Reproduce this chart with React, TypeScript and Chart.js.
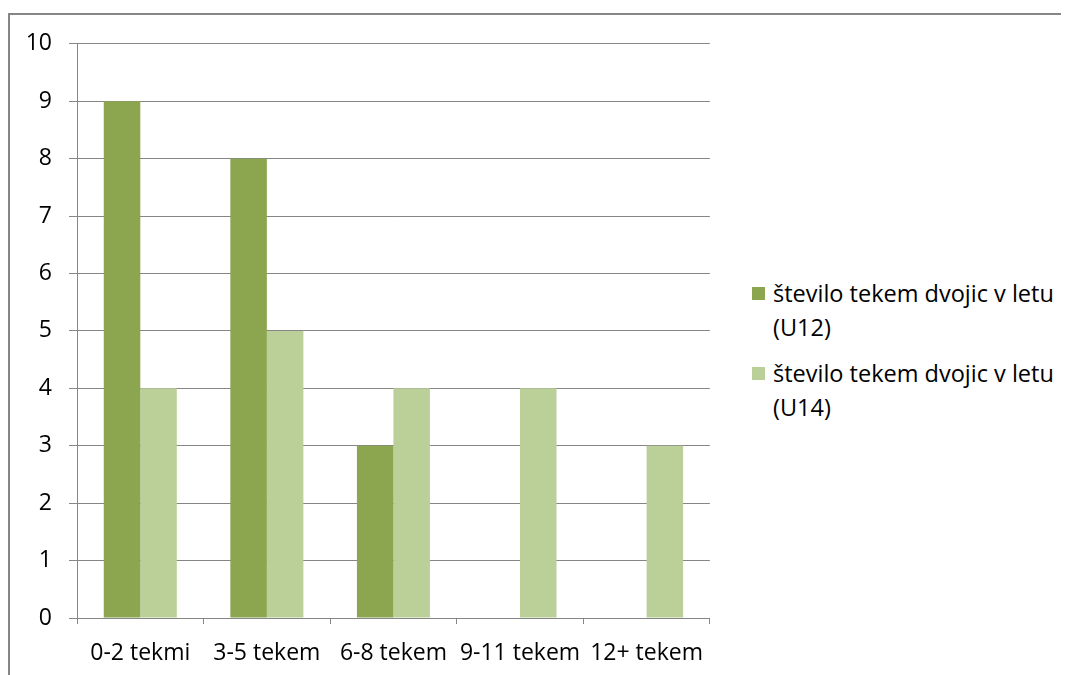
import React, { useEffect, useRef } from "react";
import { Chart, registerables } from "chart.js";

Chart.register(...registerables);

const categories = ["0-2 tekmi", "3-5 tekem", "6-8 tekem", "9-11 tekem", "12+ tekem"];
const seriesNames = ["število tekem dvojic v letu (U12)", "število tekem dvojic v letu (U14)"];
const legendLines = [
  ["število tekem dvojic v letu", "(U12)"],
  ["število tekem dvojic v letu", "(U14)"],
];
const u12Values = [9, 8, 3, 0, 0];
const u14Values = [4, 5, 4, 4, 3];
const yTicks = [0, 1, 2, 3, 4, 5, 6, 7, 8, 9, 10];
const colors = ["#8BA64F", "#BBD098"];

const FONT = "'Open Sans', sans-serif";
const GRID = "#868686";

export default function App() {
  const ref = useRef<HTMLCanvasElement | null>(null);

  useEffect(() => {
    document.documentElement.style.overflow = "hidden";
    document.body.style.overflow = "hidden";
    if (!ref.current) return;
    const chart = new Chart(ref.current, {
      type: "bar",
      data: {
        labels: categories,
        datasets: [
          { label: seriesNames[0], data: u12Values, backgroundColor: colors[0], borderWidth: 0 },
          { label: seriesNames[1], data: u14Values, backgroundColor: colors[1], borderWidth: 0 },
        ],
      },
      options: {
        animation: false,
        responsive: false,
        devicePixelRatio: 1,
        layout: { padding: { top: 30, right: 10, bottom: 0, left: 0 } },
        plugins: { legend: { display: false }, tooltip: { enabled: false } },
        datasets: { bar: { categoryPercentage: 0.577, barPercentage: 1 } },
        scales: {
          x: {
            grid: { drawOnChartArea: false, drawTicks: true, tickLength: 6, color: GRID, offset: true },
            border: { display: true, color: GRID },
            ticks: { color: "#000", font: { family: FONT, size: 23 }, padding: 16, maxRotation: 0, autoSkip: false },
            afterFit: (s: any) => { s.height = 57; },
          },
          y: {
            min: 0,
            max: 10,
            afterBuildTicks: (s: any) => { s.ticks = yTicks.map((v) => ({ value: v })); },
            grid: { color: GRID, tickLength: 8 },
            border: { display: true, color: GRID },
            ticks: { color: "#000", font: { family: FONT, size: 23 }, padding: 17 },
            afterFit: (s: any) => { s.width = 69; },
          },
        },
      },
    });
    return () => chart.destroy();
  }, []);

  return (
    <div style={{ position: "relative", width: 1061, height: 667, fontFamily: FONT }}>
      <div
        style={{
          position: "absolute",
          left: 0,
          top: 5,
          width: 1100,
          height: 700,
          borderLeft: `2px solid ${GRID}`,
          borderTop: `2px solid ${GRID}`,
          boxSizing: "border-box",
        }}
      />
      <canvas ref={ref} width={712} height={662} style={{ position: "absolute", left: 0, top: 5 }} />
      {legendLines.map((lines, i) => (
        <div key={i} style={{ position: "absolute", left: 744, top: 268 + i * 80 }}>
          <div
            style={{
              position: "absolute",
              left: 0,
              top: 11,
              width: 13,
              height: 13,
              background: colors[i],
            }}
          />
          <div style={{ position: "absolute", left: 21, top: 0, fontSize: 23.5, lineHeight: "34px", whiteSpace: "nowrap", color: "#000" }}>
            {lines.map((l, j) => (
              <div key={j}>{l}</div>
            ))}
          </div>
        </div>
      ))}
    </div>
  );
}
